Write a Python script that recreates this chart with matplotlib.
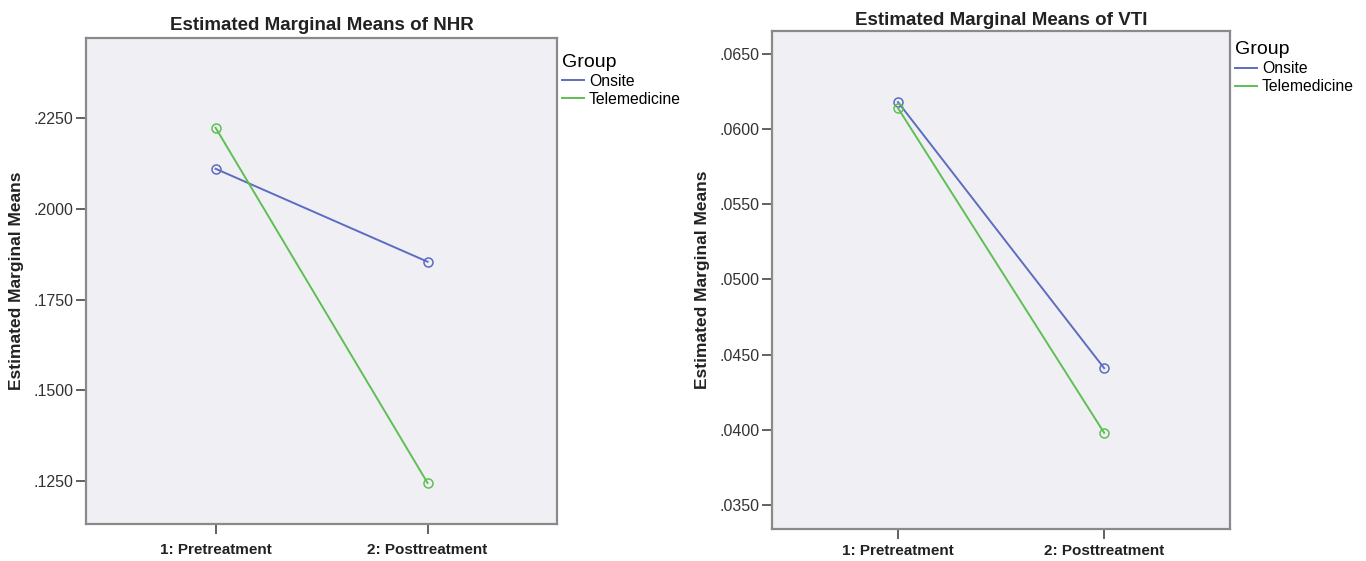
import matplotlib
matplotlib.use("Agg")
from matplotlib import pyplot

# time points and group means
times = ["1: Pretreatment", "2: Posttreatment"]
groups = ["Onsite", "Telemedicine"]
nhr_onsite = [0.2110, 0.1854]
nhr_tele = [0.2223, 0.1245]
vti_onsite = [0.0618, 0.0441]
vti_tele = [0.0614, 0.0398]
nhr_ticks = [0.1250, 0.1500, 0.1750, 0.2000, 0.2250]
vti_ticks = [0.0350, 0.0400, 0.0450, 0.0500, 0.0550, 0.0600, 0.0650]

pyplot.rcParams['font.family'] = ['Liberation Sans', 'DejaVu Sans']

colors = {'Onsite': '#5d6cc0', 'Telemedicine': '#5fbf55'}


def panel(fig, rect, title, onsite, tele, ticks, ylim, leg_xy, tpad, xpad):
    ax = fig.add_axes(rect)
    ax.set_facecolor('#f0f0f4')
    x = [1, 2]
    for name, vals in zip(groups, [onsite, tele]):
        ax.plot(x, vals, color=colors[name], lw=1.4, marker='o', ms=6.5,
                mfc='none', mec=colors[name], mew=1.1, label=name)
    ax.set_xlim(0.389, 2.611)
    ax.set_ylim(*ylim)
    ax.set_xticks(x)
    ax.set_xticklabels(times, fontsize=11, fontweight='bold', color='#222222')
    ax.set_yticks(ticks)
    ax.set_yticklabels(['{0:.4f}'.format(t)[1:] for t in ticks],
                       fontsize=11.5, color='#333333')
    for s in ax.spines.values():
        s.set_color('#8a8a8a')
        s.set_linewidth(1.6)
    ax.tick_params(axis='both', length=7, width=1.3, color='#555555')
    ax.tick_params(axis='x', pad=xpad)
    ax.tick_params(axis='y', pad=2)
    ax.set_title(title, fontsize=13.5, fontweight='bold', pad=tpad, color='#222222')
    ax.set_ylabel("Estimated Marginal Means", fontsize=12.5, fontweight='bold',
                  labelpad=7, color='#222222')
    leg = ax.legend(title="Group", loc='upper left', bbox_to_anchor=leg_xy, frameon=False,
                    handlelength=1.4, handletextpad=0.3, borderaxespad=0, labelspacing=0.2,
                    borderpad=0, prop={'size': 11.3})
    leg.get_title().set_fontsize(14)
    leg._legend_box.align = 'left'
    for h in leg.legend_handles:
        h.set_marker('')
    return ax


fig = pyplot.figure(figsize=(13.66, 5.61), dpi=100)
panel(fig, [0.0630, 0.0660, 0.3448, 0.8663], "Estimated Marginal Means of NHR",
      nhr_onsite, nhr_tele, nhr_ticks, (0.1132, 0.2470), (1.011, 0.968), 6, 7)
panel(fig, [0.5652, 0.0570, 0.3353, 0.8877], "Estimated Marginal Means of VTI",
      vti_onsite, vti_tele, vti_ticks, (0.0334, 0.06653), (1.011, 0.98), 4.5, 4)
pyplot.savefig("out.png", dpi=100)
